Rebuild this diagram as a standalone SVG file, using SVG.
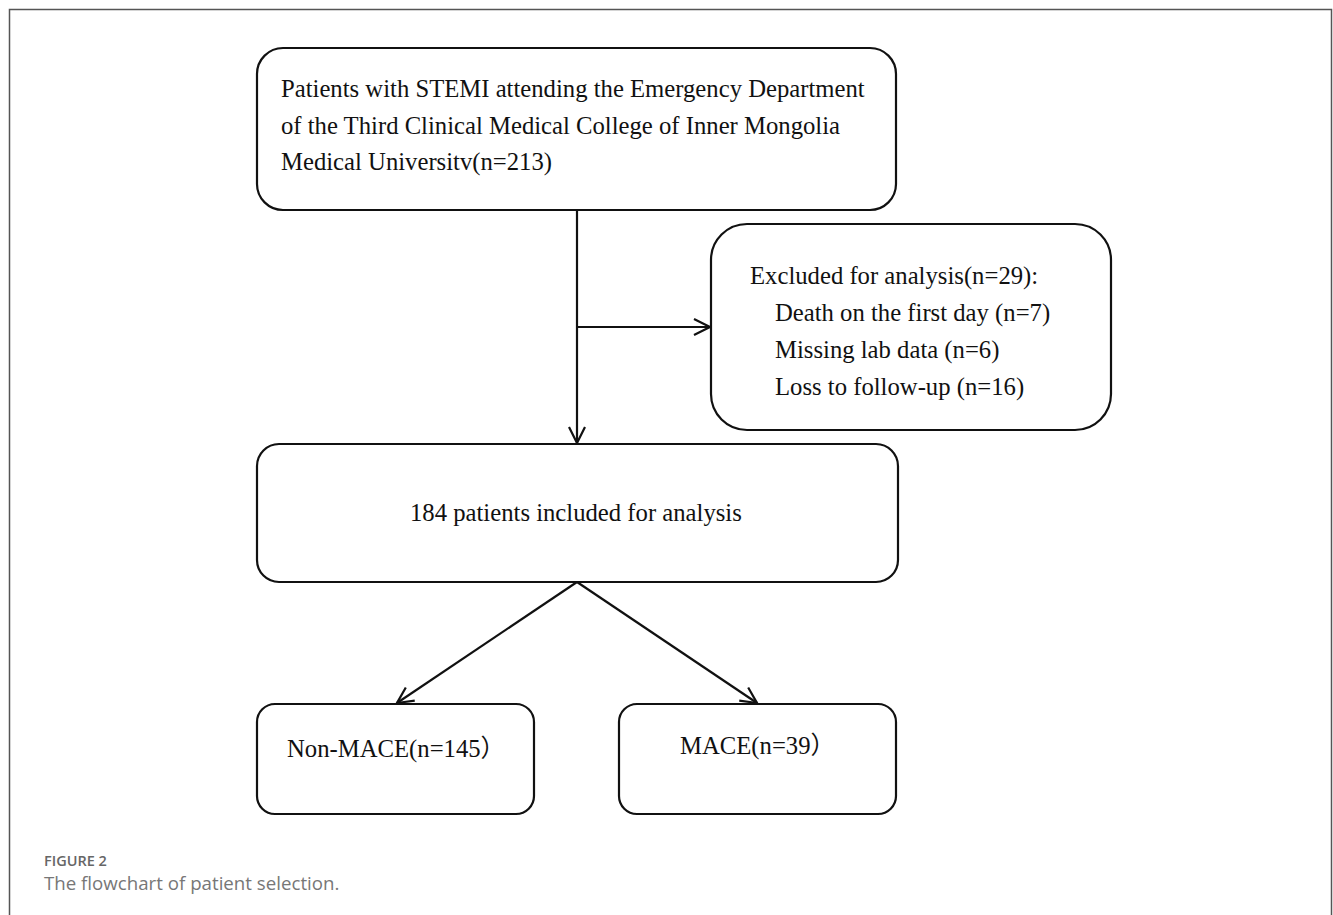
<svg xmlns="http://www.w3.org/2000/svg" width="1333" height="915" viewBox="0 0 1333 915">
<style>
.box{fill:#fff;stroke:#111;stroke-width:2.2}
.t{font-family:"Liberation Serif","Times New Roman","Noto Sans CJK SC",serif;font-size:24.7px;fill:#111}
.ln{fill:none;stroke:#111;stroke-width:2.2}
.cap1{font-family:"Open Sans","Noto Sans",sans-serif;font-size:14.5px;fill:#666;font-weight:600}
.cap2{font-family:"Open Sans","Noto Sans",sans-serif;font-size:18.7px;fill:#777}
</style>
<defs>
<marker id="arr" viewBox="0 0 20 20" refX="18" refY="10" markerWidth="20" markerHeight="20" markerUnits="userSpaceOnUse" orient="auto">
<path d="M2,2 L18,10 L2,18" fill="none" stroke="#111" stroke-width="2.2"/>
</marker>
</defs>
<rect width="1333" height="915" fill="#fff"/>
<path d="M9.5,915 V9.5 H1331.5 V915" fill="none" stroke="#555" stroke-width="1.5"/>
<g id="connectors">
<line class="ln" x1="577" y1="210" x2="577" y2="443" marker-end="url(#arr)"/>
<line class="ln" x1="577" y1="327" x2="710" y2="327" marker-end="url(#arr)"/>
<line class="ln" x1="577" y1="582" x2="397" y2="703" marker-end="url(#arr)"/>
<line class="ln" x1="577" y1="582" x2="757" y2="703" marker-end="url(#arr)"/>
</g>
<g id="node-start">
<rect class="box" x="257" y="48" width="639" height="162" rx="26"/>
<text class="t" x="281" y="97">Patients with STEMI attending the Emergency Department</text>
<text class="t" x="281" y="134">of the Third Clinical Medical College of Inner Mongolia</text>
<text class="t" x="281" y="170">Medical Universitv(n=213)</text>
</g>
<g id="node-excluded">
<rect class="box" x="711" y="224" width="400" height="206" rx="36"/>
<text class="t" x="750" y="284">Excluded for analysis(n=29):</text>
<text class="t" x="775" y="321">Death on the first day (n=7)</text>
<text class="t" x="775" y="358">Missing lab data (n=6)</text>
<text class="t" x="775" y="395">Loss to follow-up (n=16)</text>
</g>
<g id="node-included">
<rect class="box" x="257" y="444" width="641" height="138" rx="22"/>
<text class="t" x="410" y="521">184 patients included for analysis</text>
</g>
<g id="node-nonmace">
<rect class="box" x="257" y="704" width="277" height="110" rx="18"/>
<text class="t" x="287" y="757">Non-MACE(n=145）</text>
</g>
<g id="node-mace">
<rect class="box" x="619" y="704" width="277" height="110" rx="18"/>
<text class="t" x="680" y="754">MACE(n=39）</text>
</g>
<g id="caption">
<text class="cap1" x="44" y="866">FIGURE 2</text>
<text class="cap2" x="44" y="890">The flowchart of patient selection.</text>
</g>
</svg>
